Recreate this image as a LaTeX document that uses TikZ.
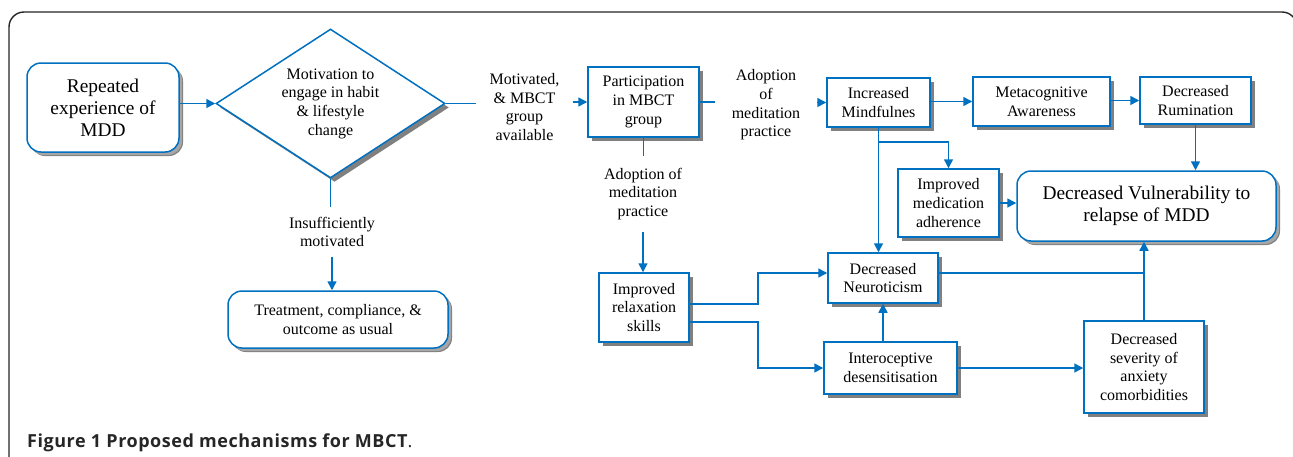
\documentclass[tikz,border=0pt]{standalone}
\usepackage{fontspec}
\setmainfont{Liberation Serif}
\newfontfamily\capfont[LetterSpace=3]{Open Sans}
\usetikzlibrary{arrows.meta,shapes.geometric,shadows,calc}
\definecolor{bblue}{RGB}{0,112,192}
\definecolor{shade}{RGB}{128,128,128}
\newcommand\boxfont{\fontsize{16}{18.7}\selectfont}
\newcommand\bigfont{\fontsize{19.4}{22}\selectfont}
\tikzset{
  box/.style={draw=bblue, line width=1.5pt, fill=white, align=center, font=\boxfont,
    inner sep=0pt, drop shadow={shadow xshift=4pt, shadow yshift=-4pt, fill=shade, opacity=1}},
  rbox/.style={box, rounded corners=14pt, drop shadow={shadow xshift=3pt, shadow yshift=-3pt, fill=shade!70, opacity=1}},
  lbl/.style={align=center, font=\boxfont, inner sep=0pt},
  ln/.style={draw=bblue, line width=1.5pt},
  arr/.style={ln, -{Triangle[length=9pt,width=9pt]}},
}
\begin{document}
\begin{tikzpicture}[x=1pt,y=-1pt]
\useasboundingbox (0,0) rectangle (1293,456);
\fill[white] (0,0) rectangle (1293,456);
\draw[line width=1.4pt, draw=black!85, rounded corners=15pt] (9,470) -- (9,12) -- (1297,12) -- (1297,470);

% nodes
\node[rbox, minimum width=152pt, minimum height=89pt, font=\bigfont] (rep) at (103,107.5) {Repeated\\experience of\\MDD};
\node[box, diamond, aspect=1.5, minimum width=229pt, minimum height=149pt] (dia) at (330.5,103.5) {Motivation to\\engage in habit\\\& lifestyle\\change};
\node[lbl, inner xsep=13pt] (motv) at (524.5,107) {Motivated,\\\& MBCT\\group\\available};
\node[box, minimum width=111pt, minimum height=70pt] (part) at (643.5,102) {Participation\\in MBCT\\group};
\node[lbl, inner xsep=17pt] (adopt1) at (766,105) {Adoption\\of\\meditation\\practice};
\node[box, minimum width=103pt, minimum height=49pt] (mind) at (878.5,102.5) {Increased\\Mindfulnes};
\node[box, minimum width=137pt, minimum height=49pt] (meta) at (1041.5,101.5) {Metacognitive\\Awareness};
\node[box, minimum width=111pt, minimum height=47pt] (rum) at (1195.5,100.5) {Decreased\\Rumination};
\node[rbox, minimum width=259pt, minimum height=70pt, font=\bigfont] (vul) at (1146.5,206) {Decreased Vulnerability to\\relapse of MDD};
\node[box, minimum width=101pt, minimum height=68pt] (med) at (948.5,203) {Improved\\medication\\adherence};
\node[box, minimum width=110pt, minimum height=50pt] (neu) at (883,278) {Decreased\\Neuroticism};
\node[box, minimum width=120pt, minimum height=92pt] (sev) at (1144,367) {Decreased\\severity of\\anxiety\\comorbidities};
\node[box, minimum width=133pt, minimum height=52pt] (int) at (890.5,368) {Interoceptive\\desensitisation};
\node[box, minimum width=90pt, minimum height=69pt] (rel) at (644,307.5) {Improved\\relaxation\\skills};
\node[lbl, inner ysep=12pt] (adopt2) at (643,194) {Adoption of\\meditation\\practice};
\node[lbl, inner ysep=9.5pt] (insuf) at (332,232) {Insufficiently\\motivated};
\node[rbox, minimum width=220pt, minimum height=57pt] (treat) at (338,319.5) {Treatment, compliance, \&\\outcome as usual};

\node[anchor=base west, inner sep=0pt, font=\capfont\fontsize{18}{20}\selectfont, text=black!85] (cap) at (27,447) {\textbf{Figure 1 Proposed mechanisms for MBCT}.};

% connectors
\draw[arr] (rep.east |- dia.west) -- (dia.west);
\draw[ln] (dia.east) -- (dia.east -| motv.west);
\draw[arr] (motv.east |- part.west) -- (part.west);
\draw[ln] (part.east) -- (part.east -| adopt1.west);
\draw[arr] (adopt1.east |- mind.west) -- (mind.west);
\draw[arr] (mind.east |- meta.west) -- (meta.west);
\draw[arr] (meta.east |- rum.west) -- (rum.west);
\draw[arr] (rum.south) -- (rum.south |- vul.north);
\draw[arr] (mind.south) -- (mind.south |- neu.north);
\draw[arr] ([yshift=-14pt]mind.south) -| (med.north);
\draw[arr] (med.east) -- (med.east -| vul.west);
\draw[ln] ([yshift=5pt]neu.east) -- ([yshift=5pt]neu.east -| sev.north);
\draw[arr] (sev.north) -- (sev.north |- vul.south);
\draw[arr] (neu.south |- int.north) -- (neu.south);
\draw[arr] (int.east) -- (int.east -| sev.west);
\draw[arr] ([yshift=3.5pt]rel.east) -- ++(68,0) |- ([yshift=5pt]neu.west);
\draw[arr] ([yshift=-14.5pt]rel.east) -- ++(68,0) |- (int.west);
\draw[ln] (part.south) -- (part.south |- adopt2.north);
\draw[arr] (adopt2.south) -- (adopt2.south |- rel.north);
\draw[ln] (dia.south) -- (dia.south |- insuf.north);
\draw[arr] (insuf.south) -- (insuf.south |- treat.north);
\end{tikzpicture}
\end{document}
